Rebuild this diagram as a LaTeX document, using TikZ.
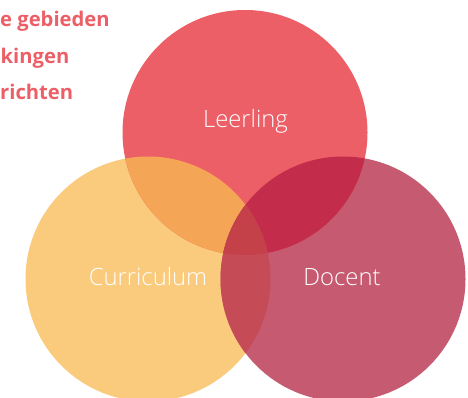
\documentclass[tikz,border=0pt]{standalone}
\usepackage{fontspec}
\newfontfamily\lightfont{Open Sans Light}
\newfontfamily\semifont{Open Sans}
\definecolor{cRed}{HTML}{EC5F67}
\definecolor{cYel}{HTML}{FACB7C}
\definecolor{cPink}{HTML}{C55A71}
\definecolor{cRY}{HTML}{F4A556}
\definecolor{cRP}{HTML}{C32D4B}
\definecolor{cYP}{HTML}{C54C56}
\definecolor{cRYP}{HTML}{C4414A}
\tikzset{
  lbl/.style={text=white, font=\lightfont\fontsize{23.8}{26}\selectfont, inner sep=0pt, anchor=base},
  side/.style={text=cRed, font=\semifont\bfseries\fontsize{20.2}{24}\selectfont, inner sep=0pt, anchor=base west},
}
\begin{document}
\begin{tikzpicture}[x=1pt,y=-1pt]
\useasboundingbox (0,0) rectangle (468,398);
\begin{scope}
\clip (0,0) rectangle (468,398);
\def\R{122.5}
% base circles
\fill[cYel] (148,279) circle (\R);
\fill[cPink] (343,279) circle (\R);
\fill[cRed] (245,132.5) circle (\R);
% overlaps
\begin{scope}
\clip (245,132.5) circle (\R);
\fill[cRY] (148,279) circle (\R);
\fill[cRP] (343,279) circle (\R);
\end{scope}
\begin{scope}
\clip (148,279) circle (\R);
\fill[cYP] (343,279) circle (\R);
\end{scope}
\begin{scope}
\clip (245,132.5) circle (\R);
\clip (148,279) circle (\R);
\fill[cRYP] (343,279) circle (\R);
\end{scope}
\end{scope}
% side text
\node[side] (t1) at (0,27) {e gebieden};
\node[side] (t2) at (0.5,63.5) {kingen};
\node[side] (t3) at (0,100) {richten};
\node[lbl] (leer) at (245.5,128) {Leerling};
\node[lbl] (curr) at (148,285) {Curriculum};
\node[lbl] (doc) at (342,285) {Docent};
\end{tikzpicture}
\end{document}
